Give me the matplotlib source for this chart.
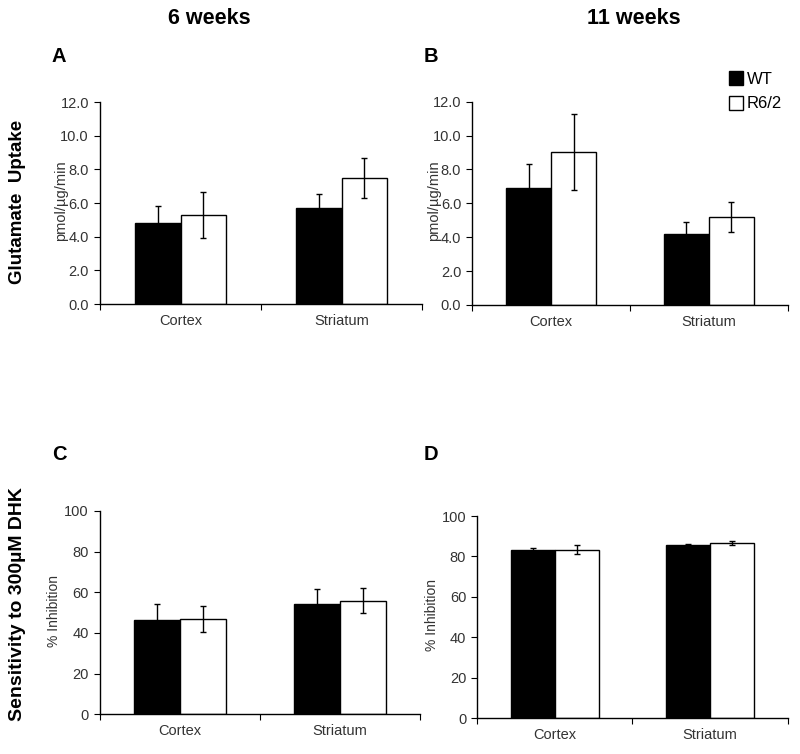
#glutamate uptake + DHK sensitivity, 6 vs 11 weeks, WT vs R6/2
import numpy as np
import matplotlib.pyplot as plt

plt.rcParams['font.family'] = ['Liberation Sans', 'DejaVu Sans']

regions = ["Cortex", "Striatum"]
groups = ["WT", "R6/2"]

#uptake, pmol/ug/min
uptake_6w_wt = [4.83, 5.68]
uptake_6w_wt_err = [1.0, 0.87]
uptake_6w_r62 = [5.29, 7.47]
uptake_6w_r62_err = [1.35, 1.2]
uptake_11w_wt = [6.92, 4.17]
uptake_11w_wt_err = [1.4, 0.75]
uptake_11w_r62 = [9.05, 5.18]
uptake_11w_r62_err = [2.25, 0.9]

#% inhibition by 300uM DHK
inhib_6w_wt = [46.4, 54.3]
inhib_6w_wt_err = [7.7, 7.2]
inhib_6w_r62 = [47.0, 55.9]
inhib_6w_r62_err = [6.3, 6.0]
inhib_11w_wt = [83.3, 85.8]
inhib_11w_wt_err = [1.0, 0.5]
inhib_11w_r62 = [83.3, 86.7]
inhib_11w_r62_err = [2.2, 0.8]

fig = plt.figure(figsize=(8, 7.54), dpi=100)
tick_col = '#333333'
w = 0.285
xax = np.arange(len(regions))


def panel(rect, wt, wt_err, r62, r62_err, ylim, yticks, fmt):
    ax = fig.add_axes(rect)
    ax.bar(xax - w / 2, wt, w, color='black', edgecolor='black', linewidth=1, label=groups[0])
    ax.bar(xax + w / 2, r62, w, color='white', edgecolor='black', linewidth=1, label=groups[1])
    ax.errorbar(xax - w / 2, wt, yerr=wt_err, fmt='none', ecolor='black', elinewidth=1, capsize=2.5)
    ax.errorbar(xax + w / 2, r62, yerr=r62_err, fmt='none', ecolor='black', elinewidth=1, capsize=2.5)
    ax.set_xlim(-0.5, 1.5)
    ax.set_ylim(*ylim)
    ax.set_yticks(yticks)
    ax.set_yticklabels([fmt.format(t) for t in yticks], color=tick_col, fontsize=10.5)
    ax.set_xticks([-0.5, 0.5, 1.5])
    ax.set_xticklabels([])
    ax.set_xticks(xax, minor=True)
    ax.set_xticklabels(regions, minor=True, color=tick_col, fontsize=10.5)
    ax.tick_params(axis='x', which='minor', length=0, pad=7)
    ax.tick_params(axis='x', which='major', length=4, direction='out')
    ax.tick_params(axis='y', length=4, direction='out', pad=4)
    for s in ['top', 'right']:
        ax.spines[s].set_visible(False)
    for s in ['left', 'bottom']:
        ax.spines[s].set_linewidth(1)
    return ax


axA = panel([0.125, 0.5968, 0.4025, 0.2679], uptake_6w_wt, uptake_6w_wt_err,
            uptake_6w_r62, uptake_6w_r62_err, (0, 12), np.arange(0, 12.1, 2), "{:.1f}")
axB = panel([0.5904, 0.5955, 0.3943, 0.2696], uptake_11w_wt, uptake_11w_wt_err,
            uptake_11w_r62, uptake_11w_r62_err, (0, 12), np.arange(0, 12.1, 2), "{:.1f}")
axC = panel([0.125, 0.0526, 0.40, 0.2697], inhib_6w_wt, inhib_6w_wt_err,
            inhib_6w_r62, inhib_6w_r62_err, (0, 100), np.arange(0, 101, 20), "{:.0f}")
axD = panel([0.5966, 0.0473, 0.388, 0.2683], inhib_11w_wt, inhib_11w_wt_err,
            inhib_11w_r62, inhib_11w_r62_err, (0, 100), np.arange(0, 101, 20), "{:.0f}")

fig.legend(*axB.get_legend_handles_labels(), loc='upper left',
           bbox_to_anchor=(729 / 800, 1 - 71 / 754), frameon=False, fontsize=12,
           handlelength=0.85, handleheight=0.9, handletextpad=0.2, labelspacing=0.55,
           borderpad=0, borderaxespad=0)

#small y labels
fig.text(61 / 800, 1 - 201 / 754, "pmol/µg/min", rotation=90, ha='center', va='center', fontsize=10.5, color=tick_col)
fig.text(434 / 800, 1 - 201 / 754, "pmol/µg/min", rotation=90, ha='center', va='center', fontsize=10.5, color=tick_col)
fig.text(54 / 800, 1 - 611 / 754, "% Inhibition", rotation=90, ha='center', va='center', fontsize=10, color=tick_col)
fig.text(432 / 800, 1 - 615 / 754, "% Inhibition", rotation=90, ha='center', va='center', fontsize=10, color=tick_col)

#row labels
fig.text(18 / 800, 1 - 202 / 754, "Glutamate  Uptake", rotation=90, ha='center', va='center', fontsize=13.5, fontweight='bold')
fig.text(18 / 800, 1 - 604 / 754, "Sensitivity to 300µM DHK", rotation=90, ha='center', va='center', fontsize=14, fontweight='bold')

#column titles
fig.text(209 / 800, 1 - 18 / 754, "6 weeks", ha='center', va='center', fontsize=15.5, fontweight='bold')
fig.text(634 / 800, 1 - 18 / 754, "11 weeks", ha='center', va='center', fontsize=15.5, fontweight='bold')

#panel letters
for lab, x, y in [("A", 59, 57), ("B", 431, 57), ("C", 59, 455), ("D", 431, 455)]:
    fig.text(x / 800, 1 - y / 754, lab, ha='center', va='center', fontsize=14.5, fontweight='bold')

plt.savefig("out.png", dpi=100)
